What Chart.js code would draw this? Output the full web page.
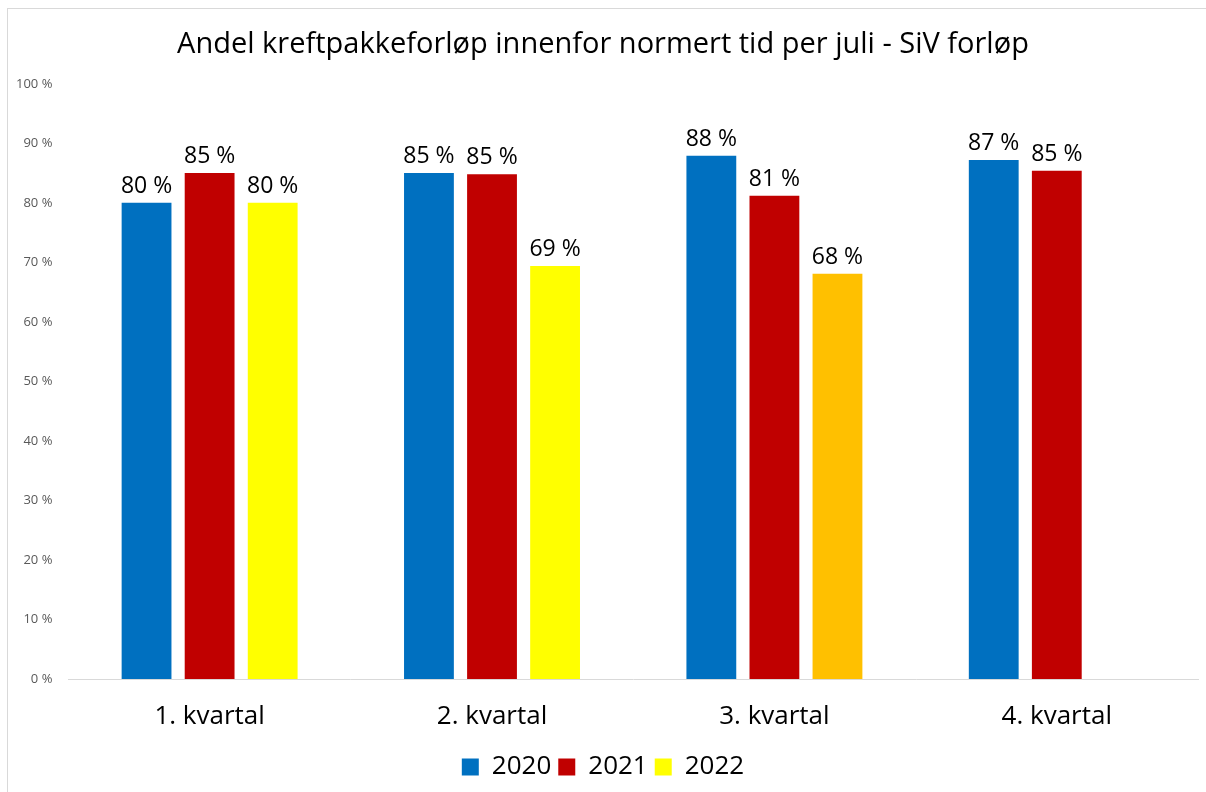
<!DOCTYPE html>
<html>
<head>
<meta charset="utf-8">
<script src="https://cdn.jsdelivr.net/npm/chart.js@4.4.0/dist/chart.umd.min.js"></script>
<style>
    html, body { margin: 0; padding: 0; background: #fff; }
    #wrap {
        position: absolute; left: 7px; top: 8px;
        width: 1199px; height: 784px;
        border-left: 1px solid #d9d9d9; border-top: 1px solid #d9d9d9;
        box-sizing: border-box;
    }
    canvas { display: block; }
</style>
</head>
<body>
<div id="wrap"><canvas id="chartKvartal"></canvas></div>
<script>
const categories = ['1. kvartal', '2. kvartal', '3. kvartal', '4. kvartal'];
const years = ['2020', '2021', '2022'];
const values2020 = [80, 85, 87.9, 87.2];
const values2021 = [85, 84.8, 81.2, 85.4];
const values2022 = [80, 69.4, 68.1, null];
const colors2022 = ['#FFFF00', '#FFFF00', '#FFC000', '#FFFF00'];
const yTicks = [0, 10, 20, 30, 40, 50, 60, 70, 80, 90, 100];

const FONT = '"Open Sans", "Noto Sans", sans-serif';

// skriver verdien over hver stolpe
const valueLabels = {
    id: 'valueLabels',
    afterDatasetsDraw(chart) {
        const { ctx } = chart;
        ctx.save();
        ctx.font = '23px ' + FONT;
        ctx.fillStyle = '#000';
        ctx.textAlign = 'center';
        ctx.textBaseline = 'bottom';
        chart.data.datasets.forEach((ds, i) => {
            const meta = chart.getDatasetMeta(i);
            meta.data.forEach((bar, j) => {
                const v = ds.data[j];
                if (v === null || v === undefined) return;
                ctx.fillText(Math.round(v) + ' %', bar.x, bar.y - 5);
            });
        });
        ctx.restore();
    }
};

const ctx = document.querySelector('#chartKvartal').getContext('2d');
new Chart(ctx, {
    type: 'bar',
    data: {
        labels: categories,
        datasets: [
            { label: years[0], data: values2020, backgroundColor: '#0070C0' },
            { label: years[1], data: values2021, backgroundColor: '#C00000' },
            { label: years[2], data: values2022, backgroundColor: colors2022 }
        ]
    },
    plugins: [valueLabels],
    options: {
        responsive: true,
        maintainAspectRatio: false,
        animation: false,
        categoryPercentage: 0.67,
        barPercentage: 0.79,
        layout: { padding: { left: 0, right: 8, top: 12, bottom: 2 } },
        plugins: {
            title: {
                display: true,
                text: 'Andel kreftpakkeforløp innenfor normert tid per juli - SiV forløp',
                color: '#000',
                font: { family: FONT, size: 29, weight: 'normal' },
                padding: { top: 6, bottom: 22 }
            },
            legend: {
                position: 'bottom',
                labels: {
                    color: '#000',
                    font: { family: FONT, size: 26 },
                    boxWidth: 17,
                    boxHeight: 17,
                    padding: 7,
                    generateLabels(chart) {
                        return chart.data.datasets.map((ds, i) => ({
                            text: ds.label,
                            fillStyle: i === 2 ? '#FFFF00' : ds.backgroundColor,
                            strokeStyle: 'transparent',
                            lineWidth: 0,
                            datasetIndex: i,
                            fontColor: '#000'
                        }));
                    }
                }
            },
            tooltip: { enabled: false }
        },
        scales: {
            x: {
                grid: { display: false, drawBorder: false },
                border: { display: true, color: '#d9d9d9', width: 1 },
                ticks: { color: '#000', font: { family: FONT, size: 26, lineHeight: 1 }, padding: 17 }
            },
            y: {
                min: 0,
                max: 100,
                afterBuildTicks(axis) { axis.ticks = yTicks.map(v => ({ value: v })); },
                grid: { display: false },
                border: { display: false },
                ticks: {
                    color: '#595959',
                    font: { family: FONT, size: 13 },
                    padding: 8,
                    callback: v => v + ' %'
                }
            }
        }
    }
});
</script>
</body>
</html>
